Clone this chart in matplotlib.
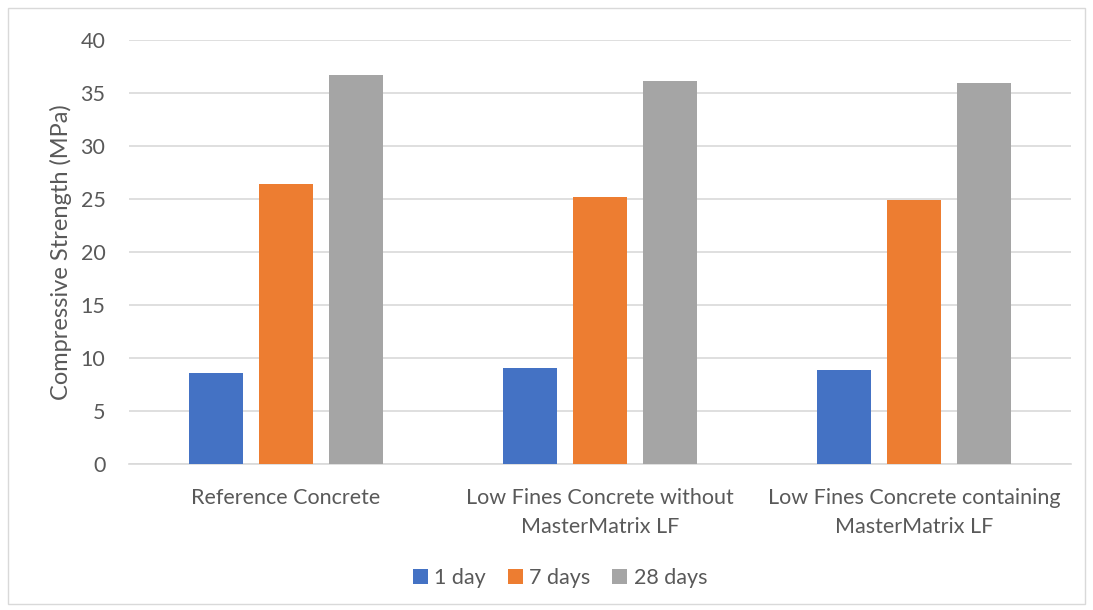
import matplotlib.pyplot as plt
import numpy as np
from matplotlib.patches import Rectangle

# compressive strength results per mix and curing age
mixes = ["Reference Concrete",
         "Low Fines Concrete without\nMasterMatrix LF",
         "Low Fines Concrete containing\nMasterMatrix LF"]
ages = ["1 day", "7 days", "28 days"]
day1 = [8.6, 9.1, 8.9]
day7 = [26.4, 25.2, 24.9]
day28 = [36.7, 36.1, 35.9]
colors = ["#4472c4", "#ed7d31", "#a5a5a5"]

plt.rcParams['font.family'] = ['Lato', 'DejaVu Sans']
txt = "#595959"

fig = plt.figure(figsize=(10.93, 6.10), dpi=100)
ax = fig.add_axes([129 / 1093, 1 - 464 / 610, 942 / 1093, 424 / 610])

x = np.arange(len(mixes))
w = 0.175
step = 0.223
for i, (vals, lab) in enumerate(zip([day1, day7, day28], ages)):
    ax.bar(x + (i - 1) * step, vals, w, color=colors[i], label=lab, zorder=3)

ax.set_xlim(-0.5, 2.5)
ax.set_ylim(0, 40)
ax.set_yticks(range(0, 41, 5))
ax.set_xticks(x)
ax.set_xticklabels(mixes, fontsize=15.5, color=txt, linespacing=1.6)
ax.tick_params(axis='y', labelsize=15.5, labelcolor=txt, length=0, pad=17)
ax.tick_params(axis='x', length=0, pad=17)
ax.grid(axis='y', color="#d9d9d9", linewidth=1.2, zorder=0)
for s in ["top", "right", "left"]:
    ax.spines[s].set_visible(False)
ax.spines["bottom"].set_color("#d9d9d9")
ax.spines["bottom"].set_linewidth(1.2)
ax.set_ylabel("Compressive Strength (MPa)", fontsize=17, color=txt, labelpad=6)

leg = fig.legend(loc="center", bbox_to_anchor=(560 / 1093, 1 - 578 / 610), ncol=3,
                 frameon=False, fontsize=15.5, handlelength=0.7, handleheight=0.7,
                 handletextpad=0.3, columnspacing=1.0)
for t in leg.get_texts():
    t.set_color(txt)

# outer chart border
fig.patches.append(Rectangle((8 / 1093, 6 / 610), 1077 / 1093, 596 / 610,
                             transform=fig.transFigure, fill=False,
                             edgecolor="#d9d9d9", linewidth=1))

fig.savefig("out.png", dpi=100)
